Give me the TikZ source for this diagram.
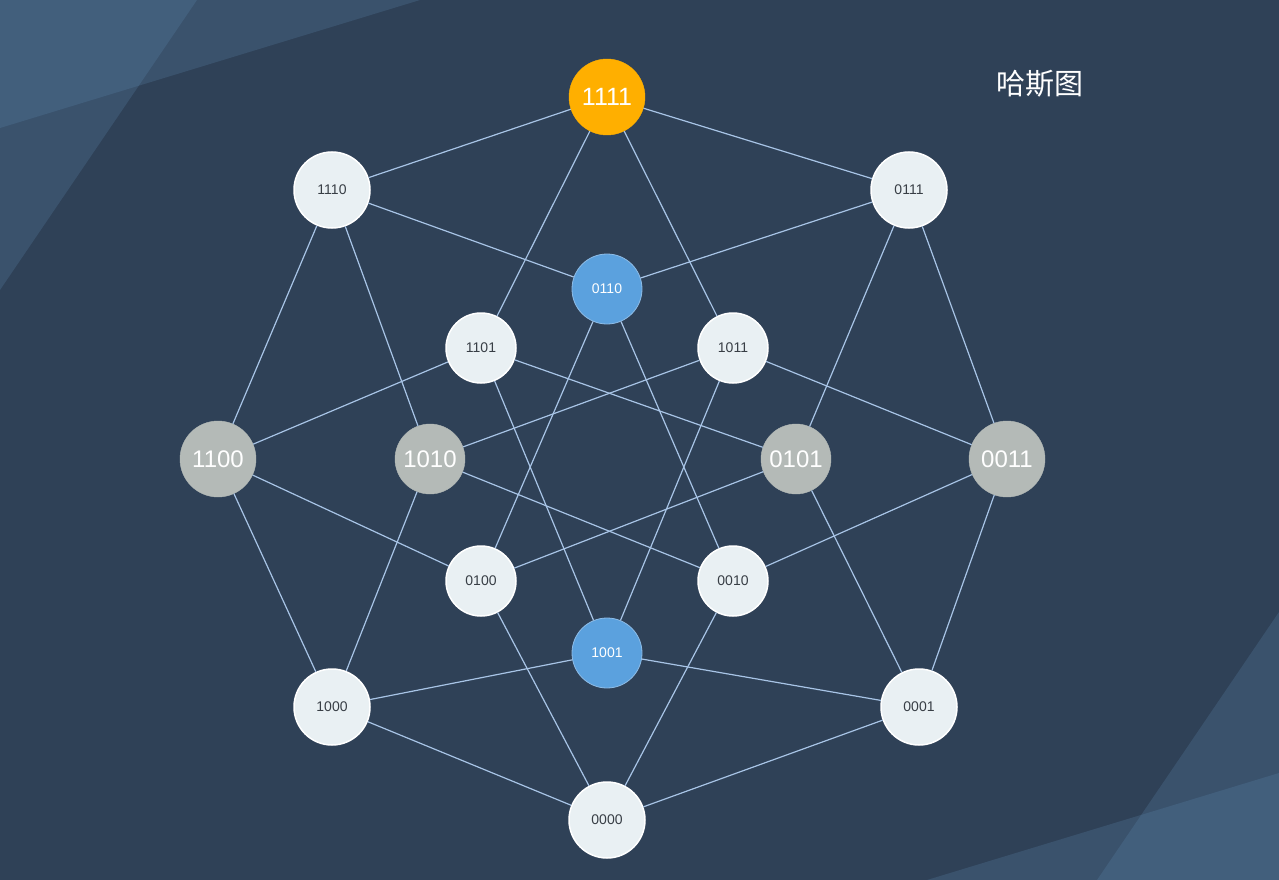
\documentclass[tikz,border=0pt]{standalone}
\usepackage{fontspec}
\setmainfont{Liberation Sans}
\newfontfamily\cjk{Noto Sans CJK SC}
\definecolor{bgc}{HTML}{2F4157}
\definecolor{shade}{HTML}{5B86AD}
\definecolor{edgec}{HTML}{A8C4E6}
\definecolor{whitec}{HTML}{E9F0F3}
\definecolor{orangec}{HTML}{FFAF00}
\definecolor{bluec}{HTML}{5BA1DE}
\definecolor{blueb}{HTML}{8EBDE8}
\definecolor{grayc}{HTML}{B4BAB7}
\definecolor{darktext}{HTML}{383E45}
\begin{document}
\begin{tikzpicture}[x=1pt,y=-1pt,
  base/.style={circle, inner sep=0pt, font=\fontsize{14}{14}\selectfont},
  outer/.style={base, minimum size=76pt},
  inner/.style={base, minimum size=70pt},
  wnode/.style={fill=whitec, draw=white, line width=1.5pt, text=darktext},
  onode/.style={fill=orangec, draw=orangec, text=white, font=\fontsize{25}{25}\selectfont},
  bnode/.style={fill=bluec, draw=blueb, line width=0.8pt, text=white},
  gnode/.style={fill=grayc, draw=grayc, text=white, font=\fontsize{24}{24}\selectfont},
  edge/.style={draw=edgec, line width=1.2pt},
  deco/.style={fill=shade, opacity=0.25}
]
\useasboundingbox (0,0) rectangle (1279,880);
\fill[bgc] (0,0) rectangle (1279,880);
\fill[deco] (0,0) -- (420,0) -- (0,128) -- cycle;
\fill[deco] (0,0) -- (197,0) -- (0,290) -- cycle;
\fill[deco] (1279,880) -- (927,880) -- (1279,773) -- cycle;
\fill[deco] (1279,880) -- (1097,880) -- (1279,612) -- cycle;

\node[text=white, font=\cjk\fontsize{29}{29}\selectfont] (title) at (1040,84) {哈斯图};

\node[outer, onode] (n1111) at (607,97) {1111};
\node[outer, wnode] (n1110) at (332,190) {1110};
\node[outer, wnode] (n0111) at (909,190) {0111};
\node[inner, bnode] (n0110) at (607,289) {0110};
\node[inner, wnode] (n1101) at (481,348) {1101};
\node[inner, wnode] (n1011) at (733,348) {1011};
\node[outer, gnode] (n1100) at (218,459) {1100};
\node[inner, gnode] (n1010) at (430,459) {1010};
\node[inner, gnode] (n0101) at (796,459) {0101};
\node[outer, gnode] (n0011) at (1007,459) {0011};
\node[inner, wnode] (n0100) at (481,581) {0100};
\node[inner, wnode] (n0010) at (733,581) {0010};
\node[inner, bnode] (n1001) at (607,653) {1001};
\node[outer, wnode] (n1000) at (332,707) {1000};
\node[outer, wnode] (n0001) at (919,707) {0001};
\node[outer, wnode] (n0000) at (607,820) {0000};

\foreach \a/\b in {1111/1110,1111/0111,1111/1101,1111/1011,
  1110/1100,1110/1010,1110/0110,
  0111/0110,0111/0101,0111/0011,
  1101/1100,1101/0101,1101/1001,
  1011/1010,1011/0011,1011/1001,
  0110/0100,0110/0010,
  1100/0100,1100/1000,
  1010/1000,1010/0010,
  0101/0100,0101/0001,
  0011/0010,0011/0001,
  1001/1000,1001/0001,
  0100/0000,0010/0000,1000/0000,0001/0000}
  \draw[edge] (n\a) -- (n\b);
\end{tikzpicture}
\end{document}
